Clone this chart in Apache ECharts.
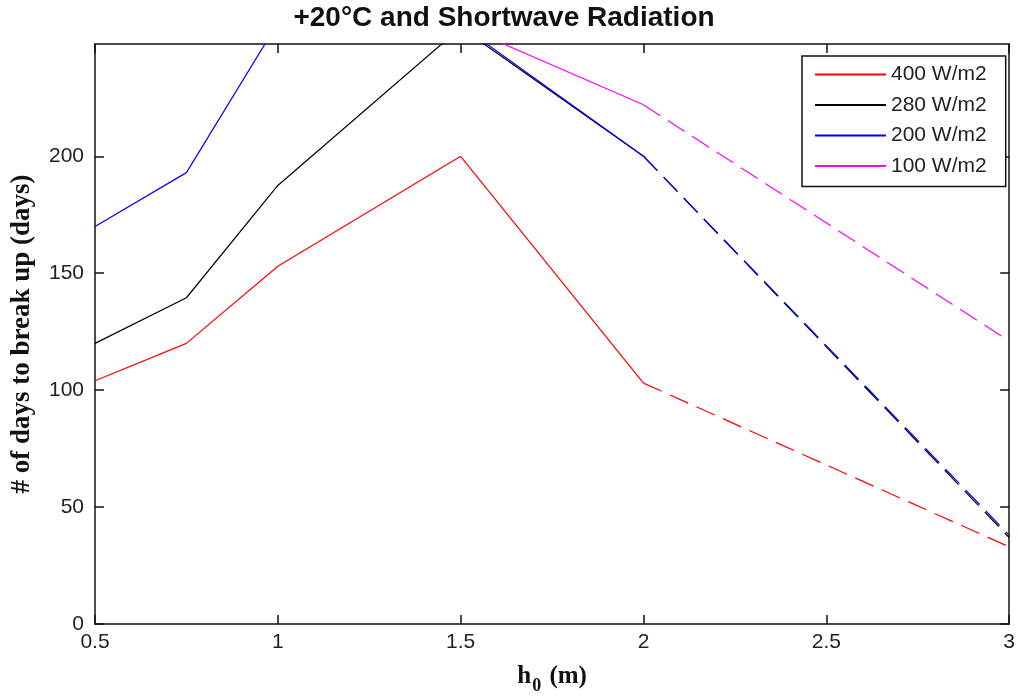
<!DOCTYPE html>
<html>
<head>
<meta charset="utf-8">
<title>+20°C and Shortwave Radiation</title>
<script src="https://cdn.jsdelivr.net/npm/echarts@6/dist/echarts.min.js"></script>
<style>
	html, body { margin: 0; padding: 0; background: #fff; }
	#chart { width: 1018px; height: 700px; }
</style>
</head>
<body>
<div id="chart"></div>
<script>
	/* ice thickness h0 (m) */
	var hValues = [0.5, 0.75, 1, 1.5, 2, 3];

	/* # of days to break up, per shortwave radiation level (last point is extrapolated) */
	var days400 = [104, 120, 153, 200, 103, 33];
	var days280 = [120, 139.5, 187.5, 255, 200, 37];
	var days200 = [170, 193, 257, 256, 200, 38];
	var days100 = [null, null, null, 256, 222, 121];

	var seriesNames = ["400 W/m2", "280 W/m2", "200 W/m2", "100 W/m2"];
	var seriesColors = ["#ff0000", "#000000", "#0000ff", "#ff00ff"];
	var seriesValues = [days400, days280, days200, days100];

	var xTicks = [0.5, 1, 1.5, 2, 2.5, 3];
	var yTicks = [0, 50, 100, 150, 200];

	// solid part up to h0 = 2, dashed part from 2 to 3
	var SPLIT_INDEX = 4;

	function pairs(values, from, to)
	{
		var re = [];
		for(var i=from; i<=to; i++)
		{
			if(values[i] != null)
				re.push([hValues[i], values[i]]);
		}
		return re;
	}

	var series = [];

	for(var i=0; i<seriesNames.length; i++)
	{
		series.push(
		{
			name: seriesNames[i],
			type: "line",
			symbol: "none",
			clip: true,
			z: 2 + i,
			silent: true,
			color: seriesColors[i],
			lineStyle: { color: seriesColors[i], width: 1.2 },
			data: pairs(seriesValues[i], 0, SPLIT_INDEX)
		});
	}

	for(var i=0; i<seriesNames.length; i++)
	{
		series.push(
		{
			name: seriesNames[i] + " (extrapolated)",
			type: "line",
			symbol: "none",
			clip: true,
			z: 2 + i,
			silent: true,
			color: seriesColors[i],
			lineStyle: { color: seriesColors[i], width: 1.2, type: [20, 9] },
			data: pairs(seriesValues[i], SPLIT_INDEX, hValues.length - 1)
		});
	}

	var axisLineStyle = { color: "#111", width: 1.5 };
	var labelFont = "Liberation Sans";

	function xAxisOf(position, showLabel)
	{
		return {
			type: "value",
			position: position,
			min: xTicks[0],
			max: xTicks[xTicks.length - 1],
			interval: 0.5,
			axisLine: { show: true, onZero: false, lineStyle: axisLineStyle },
			axisTick: { show: true, inside: true, length: 9, lineStyle: axisLineStyle },
			axisLabel: {
				show: showLabel,
				fontFamily: labelFont,
				fontSize: 21,
				color: "#222",
				margin: 8
			},
			splitLine: { show: false }
		};
	}

	function yAxisOf(position, showLabel)
	{
		return {
			type: "value",
			position: position,
			min: 0,
			max: 248,
			interval: 50,
			axisLine: { show: true, onZero: false, lineStyle: axisLineStyle },
			axisTick: { show: true, inside: true, length: 9, lineStyle: axisLineStyle, customValues: yTicks },
			axisLabel: {
				show: showLabel,
				customValues: yTicks,
				fontFamily: labelFont,
				fontSize: 21,
				color: "#222",
				margin: 11
			},
			splitLine: { show: false }
		};
	}

	var xBottom = xAxisOf("bottom", true);
	xBottom.name = "{h|h}{sub|0}{rest| (m)}";
	xBottom.nameLocation = "middle";
	xBottom.nameGap = 40;
	xBottom.nameTextStyle = {
		rich: {
			h: { fontFamily: "Liberation Serif", fontWeight: "bold", fontSize: 25, color: "#111", lineHeight: 25, verticalAlign: "top" },
			sub: { fontFamily: "Liberation Serif", fontWeight: "bold", fontSize: 18, color: "#111", lineHeight: 18, verticalAlign: "top", padding: [13, 2, 0, 1] },
			rest: { fontFamily: "Liberation Serif", fontWeight: "bold", fontSize: 25, color: "#111", lineHeight: 25, verticalAlign: "top" }
		}
	};

	var yLeft = yAxisOf("left", true);
	yLeft.name = "# of days to break up (days)";
	yLeft.nameLocation = "middle";
	yLeft.nameGap = 59;
	yLeft.nameTextStyle = {
		fontFamily: "Liberation Serif",
		fontWeight: "bold",
		fontSize: 27,
		color: "#111"
	};

	var option =
	{
		backgroundColor: "#fff",
		animation: false,
		title: {
			text: "+20°C and Shortwave Radiation",
			left: 504,
			top: 4,
			padding: 0,
			textAlign: "center",
			textStyle: {
				fontFamily: labelFont,
				fontWeight: "bold",
				fontSize: 28,
				color: "#111"
			}
		},
		legend: {
			data: seriesNames,
			orient: "vertical",
			left: 802,
			top: 56,
			padding: [8, 19, 10, 12],
			itemWidth: 71,
			itemHeight: 14,
			itemGap: 9.5,
			itemStyle: { opacity: 0 },
			backgroundColor: "#fff",
			borderColor: "#111",
			borderWidth: 1.5,
			selectedMode: false,
			textStyle: {
				fontFamily: labelFont,
				fontSize: 21,
				lineHeight: 21,
				color: "#222"
			}
		},
		grid: {
			left: 95,
			right: 5,
			top: 44,
			bottom: 73
		},
		xAxis: [xBottom, xAxisOf("top", false)],
		yAxis: [yLeft, yAxisOf("right", false)],
		series: series
	};

	var chart = echarts.init(document.getElementById("chart"));
	chart.setOption(option);
</script>
</body>
</html>
